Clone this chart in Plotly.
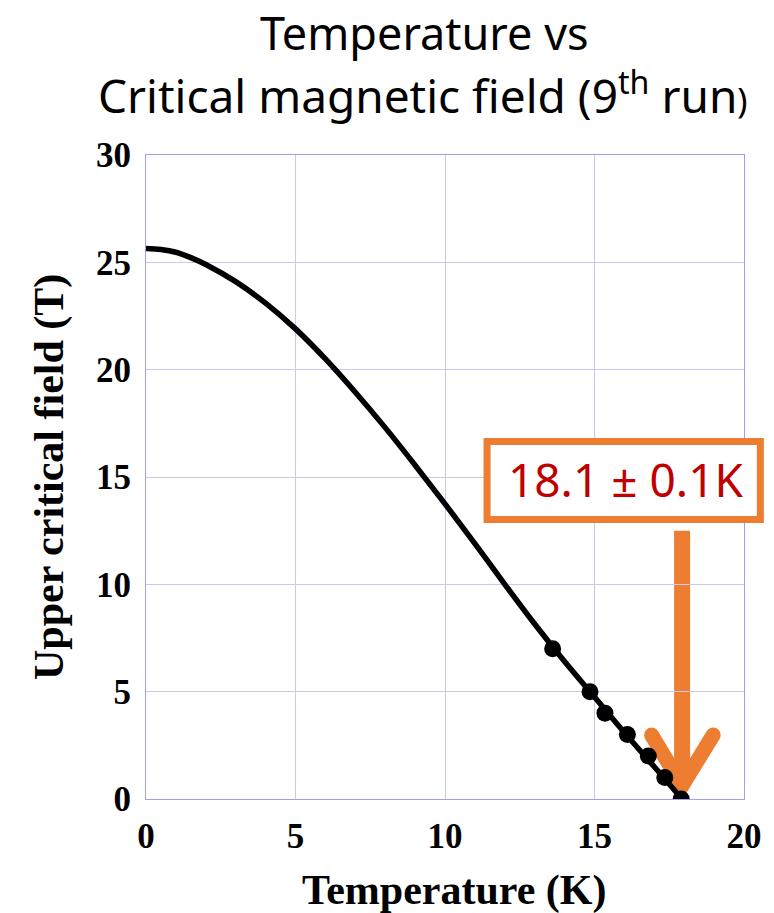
import plotly.graph_objects as go

# ---- data ----
curve_T = [0, 0.5, 1, 1.5, 2, 3, 4, 5, 6, 7, 8, 9, 10, 11, 12, 13, 14, 15, 16, 17, 17.9]
curve_H = [25.65, 25.6, 25.47, 25.22, 24.9, 24.1, 23.1, 21.9, 20.5, 18.95, 17.3, 15.55,
           13.75, 11.9, 10.0, 8.15, 6.4, 4.75, 3.1, 1.5, 0.05]
point_T = [13.6, 14.85, 15.35, 16.1, 16.8, 17.35, 17.9]
point_H = [7, 5, 4, 3, 2, 1, 0]
x_ticks = [0, 5, 10, 15, 20]
y_ticks = [0, 5, 10, 15, 20, 25, 30]
tc_value = 17.93          # arrow position (K)
tc_label = "18.1 \u00b1 0.1K"

ORANGE = "#ED7D31"
GRID = "#C8C8F2"
BORDER = "#A0A0EA"
SERIF = "Liberation Serif, Times New Roman, serif"
SANS = "Noto Sans, Open Sans, sans-serif"

W, H = 774, 913
PL, PR, PT, PB = 146, 750, 155, 799   # plot area in page pixels

def px_x(p):
    return (p - PL) / (PR - PL)

def px_y(p):
    return (PB - p) / (PB - PT)

fig = go.Figure()
fig.add_trace(go.Scatter(x=curve_T, y=curve_H, mode="lines",
                         line=dict(color="black", width=5.5, shape="spline", smoothing=1.0),
                         hoverinfo="skip", showlegend=False))
fig.add_trace(go.Scatter(x=point_T, y=point_H, mode="markers",
                         marker=dict(color="black", size=17),
                         showlegend=False))

axis_common = dict(showgrid=True, gridcolor=GRID, gridwidth=1,
                   showline=True, linecolor=BORDER, linewidth=1, mirror=True,
                   zeroline=False, ticks="",
                   tickfont=dict(family=SERIF, size=35, color="black", weight="bold"))
fig.update_xaxes(range=[0, 20], tickvals=x_ticks, ticklabelstandoff=6, **axis_common)
fig.update_yaxes(range=[0, 30], tickvals=y_ticks, ticklabelstandoff=7, **axis_common)

# arrow: shaft + chevron (decoration)
fig.add_shape(type="line", xref="x", yref="y", x0=tc_value, x1=tc_value, y0=12.5, y1=0.7,
              line=dict(color=ORANGE, width=16), layer="below")
fig.add_shape(type="path", xref="x", yref="y",
              path=f"M {tc_value-1.02},2.98 L {tc_value},0.62 L {tc_value+1.04},2.98",
              line=dict(color=ORANGE, width=15), layer="below")
for dx in (-1.02, 1.04):
    fig.add_shape(type="circle", xref="x", yref="y", xsizemode="pixel", ysizemode="pixel",
                  xanchor=tc_value + dx, yanchor=2.98, x0=-7.5, x1=7.5, y0=-7.5, y1=7.5,
                  line=dict(width=0), fillcolor=ORANGE, layer="below")

# value box
fig.add_shape(type="rect", xref="paper", yref="paper",
              x0=px_x(490.5), x1=px_x(766.5), y0=px_y(519.5), y1=px_y(441.5),
              line=dict(color=ORANGE, width=7), fillcolor="white", layer="above")
fig.add_annotation(xref="paper", yref="paper", x=px_x(630), y=px_y(479), text=tc_label,
                   showarrow=False, xanchor="center", yanchor="middle",
                   font=dict(family=SANS, size=46, color="#C00000"))

# titles
fig.add_annotation(xref="paper", yref="paper", x=px_x(427), y=px_y(33),
                   text="Temperature vs", showarrow=False, xanchor="center", yanchor="middle",
                   font=dict(family=SANS, size=45, color="black"))
fig.add_annotation(xref="paper", yref="paper", x=px_x(426), y=px_y(93),
                   text="Critical magnetic field (9<sup>th</sup> run<span style='font-size:34px'>)</span>",
                   showarrow=False, xanchor="center", yanchor="middle",
                   font=dict(family=SANS, size=46, color="black"))
fig.add_annotation(xref="paper", yref="paper", x=px_x(457), y=px_y(890),
                   text="<b>Temperature (K)</b>", showarrow=False, xanchor="center", yanchor="middle",
                   font=dict(family=SERIF, size=42, color="black"))
fig.add_annotation(xref="paper", yref="paper", x=px_x(48), y=0.5, textangle=-90,
                   text="<b>Upper critical field (T)</b>", showarrow=False,
                   xanchor="center", yanchor="middle",
                   font=dict(family=SERIF, size=42, color="black"))

fig.update_layout(width=W, height=H,
                  margin=dict(l=PL, r=W - PR, t=PT, b=H - PB),
                  paper_bgcolor="white", plot_bgcolor="white")
fig.write_html("out.html", config={"displayModeBar": False},
               post_script="document.body.style.margin='0';document.body.style.overflow='hidden';")
